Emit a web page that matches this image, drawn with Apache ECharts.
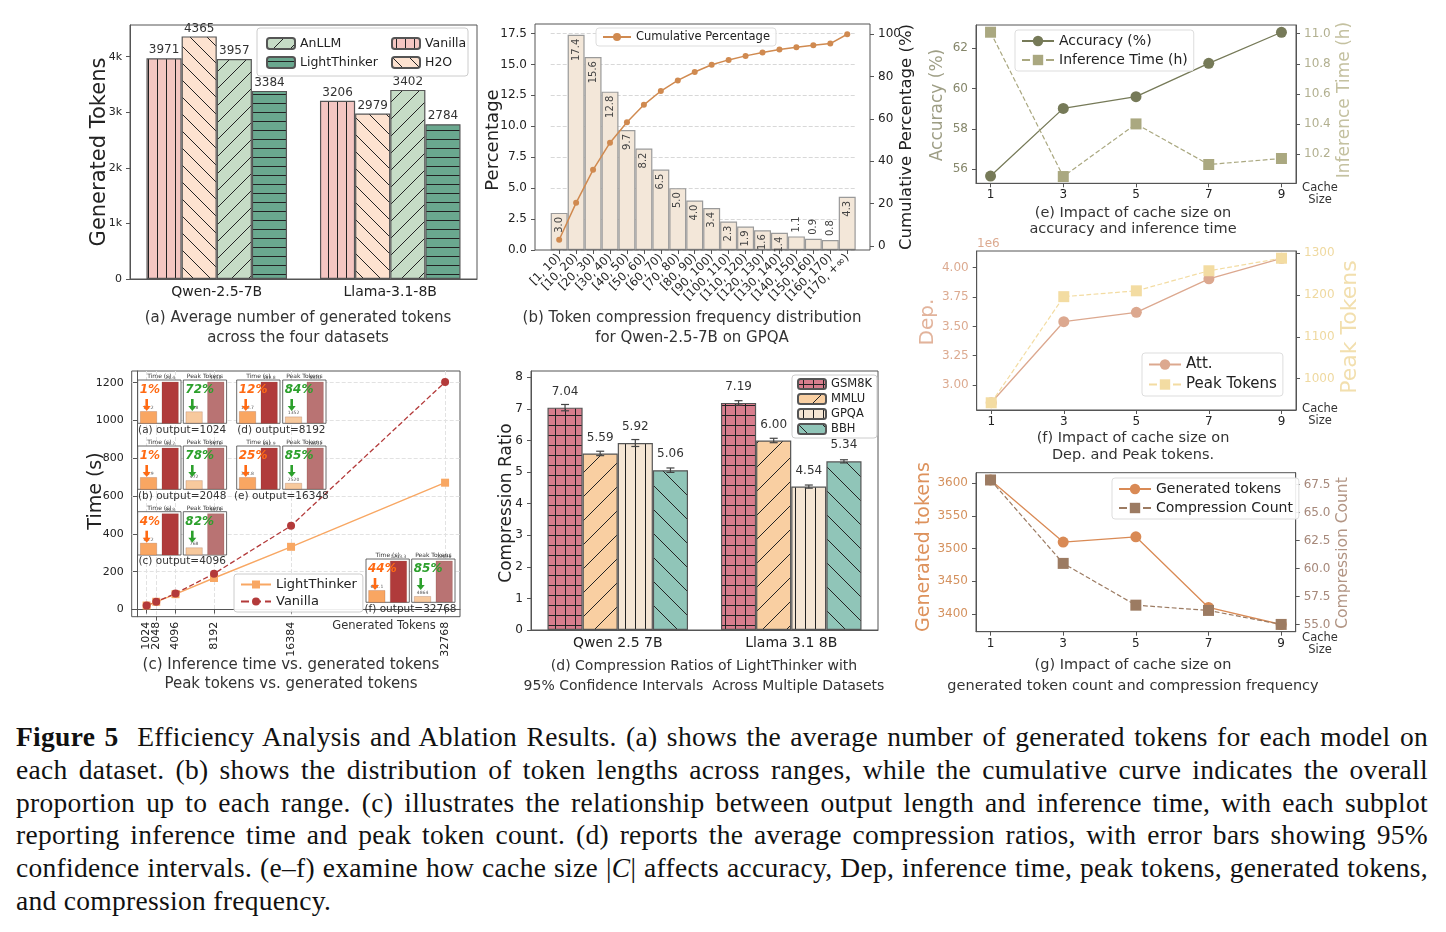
<!DOCTYPE html>
<html>
<head>
<meta charset="utf-8">
<script src="https://cdn.jsdelivr.net/npm/echarts@6/dist/echarts.min.js"></script>
<style>
  body { margin: 0; background: #fff; }
  .layer { position: absolute; left: 0; top: 0; width: 1446px; height: 932px; }
  #caption { position: absolute; left: 16px; top: 721px; width: 1412px; font-family: 'Liberation Serif', 'DejaVu Serif', serif; font-size: 27.5px; letter-spacing: 0.3px; line-height: 32.8px; color: #111; }
  #caption .j { text-align: justify; text-align-last: justify; }
</style>
</head>
<body>
<div id="caption">
  <div class="j"><b>Figure 5</b>&nbsp; Efficiency Analysis and Ablation Results. (a) shows the average number of generated tokens for each model on</div>
  <div class="j">each dataset. (b) shows the distribution of token lengths across ranges, while the cumulative curve indicates the overall</div>
  <div class="j">proportion up to each range. (c) illustrates the relationship between output length and inference time, with each subplot</div>
  <div class="j">reporting inference time and peak token count. (d) reports the average compression ratios, with error bars showing 95%</div>
  <div class="j">confidence intervals. (e–f) examine how cache size |<i>C</i>| affects accuracy, Dep, inference time, peak tokens, generated tokens,</div>
  <div>and compression frequency.</div>
</div>
<script>
// ---- (a) generated tokens
var aModels = ['Qwen-2.5-7B', 'Llama-3.1-8B'];
var aVanilla = [3971, 3206];
var aH2O = [4365, 2979];
var aAnLLM = [3957, 3402];
var aLightThinker = [3384, 2784];
var aTicks = [0, 1000, 2000, 3000, 4000];

// ---- (b) token compression frequency
var bBins = ['[1, 10)', '[10, 20)', '[20, 30)', '[30, 40)', '[40, 50)', '[50, 60)', '[60, 70)', '[70, 80)', '[80, 90)',
  '[90, 100)', '[100, 110)', '[110, 120)', '[120, 130)', '[130, 140)', '[140, 150)', '[150, 160)', '[160, 170)', '[170, +∞)'];
var bPercent = [3.0, 17.4, 15.6, 12.8, 9.7, 8.2, 6.5, 5.0, 4.0, 3.4, 2.3, 1.9, 1.6, 1.4, 1.1, 0.9, 0.8, 4.3];
var bCumulative = [3.0, 20.4, 36.0, 48.8, 58.5, 66.7, 73.2, 78.2, 82.2, 85.6, 87.9, 89.8, 91.4, 92.8, 93.9, 94.8, 95.6, 100];
var bLeftTicks = [0, 2.5, 5, 7.5, 10, 12.5, 15, 17.5];
var bRightTicks = [0, 20, 40, 60, 80, 100];

// ---- (c) inference time vs generated tokens
var cTokens = [1024, 2048, 4096, 8192, 16384, 32768];
var cTimeLight = [21.2, 40.9, 81.2, 166.7, 331.8, 671.1];
var cTimeVanilla = [21.4, 41.2, 84.8, 189.8, 442.9, 1203.3];
var cPeakLight = [328, 472, 768, 1352, 2520, 4864];
var cPeakVanilla = [1152, 2176, 4224, 8320, 16512, 32896];
var cTimeDrop = ['1%', '1%', '4%', '12%', '25%', '44%'];
var cPeakDrop = ['72%', '78%', '82%', '84%', '85%', '85%'];
var cInsetNames = ['(a) output=1024', '(b) output=2048', '(c) output=4096', '(d) output=8192', '(e) output=16348', '(f) output=32768'];
var cYTicks = [0, 200, 400, 600, 800, 1000, 1200];

// ---- (d) compression ratios
var dModels = ['Qwen 2.5 7B', 'Llama 3.1 8B'];
var dDatasets = ['GSM8K', 'MMLU', 'GPQA', 'BBH'];
var dGSM8K = [7.04, 7.19];
var dMMLU = [5.59, 6.00];
var dGPQA = [5.92, 4.54];
var dBBH = [5.06, 5.34];
var dErrGSM8K = [0.10, 0.07];
var dErrMMLU = [0.07, 0.07];
var dErrGPQA = [0.11, 0.05];
var dErrBBH = [0.07, 0.05];
var dTicks = [0, 1, 2, 3, 4, 5, 6, 7, 8];

// ---- (e)-(g) cache size ablation
var cacheSizes = [1, 3, 5, 7, 9];
var eAccuracy = [55.67, 59.02, 59.6, 61.25, 62.79];
var eTime = [11.01, 10.05, 10.40, 10.13, 10.17];
var fDep = [2850000, 3540000, 3620000, 3905000, 4080000];
var fPeak = [942, 1196, 1210, 1258, 1288];
var gTokens = [3605, 3510, 3518, 3410, 3384];
var gCount = [67.9, 60.45, 56.72, 56.25, 55.0];

var FONT = 'DejaVu Sans';

function layer() {
  var el = document.createElement('div');
  el.className = 'layer';
  document.body.appendChild(el);
  return echarts.init(el);
}

// plain tick text, no thousands separator
function plain(v) { return String(+(+v).toFixed(6)); }

// hatch fill as canvas pattern
function hatch(bg, kind, size, lineColor) {
  var c = document.createElement('canvas');
  c.width = size; c.height = size;
  var ctx = c.getContext('2d');
  ctx.fillStyle = bg;
  ctx.fillRect(0, 0, size, size);
  ctx.strokeStyle = lineColor || '#222';
  ctx.lineWidth = 1;
  ctx.beginPath();
  var m = Math.floor(size / 2) + 0.5;
  if (kind === '|' || kind === '+') { ctx.moveTo(m, 0); ctx.lineTo(m, size); }
  if (kind === '-' || kind === '+') { ctx.moveTo(0, m); ctx.lineTo(size, m); }
  if (kind === '/') {
    ctx.moveTo(-2, size + 2); ctx.lineTo(size + 2, -2);
    ctx.moveTo(-2, 2); ctx.lineTo(2, -2);
    ctx.moveTo(size - 2, size + 2); ctx.lineTo(size + 2, size - 2);
  }
  if (kind === '\\') {
    ctx.moveTo(-2, -2); ctx.lineTo(size + 2, size + 2);
    ctx.moveTo(size - 2, -2); ctx.lineTo(size + 2, 2);
    ctx.moveTo(-2, size - 2); ctx.lineTo(2, size + 2);
  }
  ctx.stroke();
  return { image: c, repeat: 'repeat' };
}

function txt(x, y, s, size, color, opt) {
  opt = opt || {};
  var el = {
    type: 'text', x: x, y: y, z: 50, rotation: opt.rotation || 0,
    style: {
      text: s, fill: color || '#333', fontSize: size, fontFamily: FONT,
      fontWeight: opt.weight || 'normal', fontStyle: opt.italic ? 'italic' : 'normal',
      align: opt.align || 'center', textAlign: opt.align || 'center',
      verticalAlign: 'middle', textVerticalAlign: 'middle'
    }
  };
  return el;
}

function pairs(xs, ys) {
  return xs.map(function(x, i) { return [x, ys[i]]; });
}

var tickText = '#222';
var frame = '#555';

// ================= (a)
var chA = layer();
var aSeries = [
  { name: 'Vanilla', data: aVanilla, fill: hatch('#f4c6c2', '|', 9) },
  { name: 'H2O', data: aH2O, fill: hatch('#fde2d0', '\\', 17) },
  { name: 'AnLLM', data: aAnLLM, fill: hatch('#c6dcc6', '/', 17) },
  { name: 'LightThinker', data: aLightThinker, fill: hatch('#6aa88f', '-', 9) }
];
chA.setOption({
  animation: false,
  textStyle: { fontFamily: FONT },
  grid: { left: 130, top: 25, width: 347, height: 254, show: true, borderColor: frame, borderWidth: 1 },
  xAxis: {
    type: 'category', data: aModels,
    axisLine: { lineStyle: { color: frame } },
    axisTick: { alignWithLabel: true, length: 4, lineStyle: { color: frame } },
    axisLabel: { fontSize: 14, color: tickText, margin: 6 }
  },
  yAxis: {
    type: 'value', min: 0, max: 4570,
    axisLine: { show: true, lineStyle: { color: frame } },
    axisTick: { show: true, length: 4, customValues: aTicks, lineStyle: { color: frame } },
    axisLabel: { customValues: aTicks, fontSize: 11, color: tickText, formatter: function(v) { return v ? (v / 1000) + 'k' : '0'; } },
    splitLine: { show: false }
  },
  legend: [
    { data: ['AnLLM', 'LightThinker'], orient: 'vertical', left: 261, top: 32, itemWidth: 28, itemHeight: 11, itemGap: 6, z: 20, textStyle: { fontSize: 12.5, color: '#222' } },
    { data: ['Vanilla', 'H2O'], orient: 'vertical', left: 386, top: 32, itemWidth: 28, itemHeight: 11, itemGap: 6, z: 20, textStyle: { fontSize: 12.5, color: '#222' } }
  ],
  graphic: [
    { type: 'rect', z: 10, shape: { x: 257, y: 28, width: 211, height: 48, r: 3 }, style: { fill: 'rgba(255,255,255,0.85)', stroke: '#ccc', lineWidth: 1 } },
    txt(100, 152, 'Generated Tokens', 21, '#222', { rotation: Math.PI / 2 }),
    txt(298, 318, '(a) Average number of generated tokens', 15, '#333'),
    txt(298, 338, 'across the four datasets', 15, '#333')
  ],
  series: aSeries.map(function(s) {
    return {
      name: s.name, type: 'bar', data: s.data, barGap: '0%', barCategoryGap: '19%',
      itemStyle: { color: s.fill, borderColor: '#555', borderWidth: 1.2 },
      label: { show: true, position: 'top', distance: 2, fontSize: 12, color: '#333' }
    };
  })
});

// ================= (b)
var chB = layer();
chB.setOption({
  animation: false,
  textStyle: { fontFamily: FONT },
  grid: { left: 550.7, top: 24, width: 305, height: 226 },
  xAxis: {
    type: 'category', data: bBins,
    axisLine: { show: false },
    axisTick: { show: true, alignWithLabel: true, length: 4, lineStyle: { color: frame } },
    axisLabel: { rotate: 45, interval: 0, fontSize: 11.5, color: tickText, margin: 6 }
  },
  yAxis: [
    {
      type: 'value', min: 0, max: 18.27, offset: 15.7,
      axisLine: { show: false },
      axisTick: { show: true, length: 4, customValues: bLeftTicks, lineStyle: { color: frame } },
      axisLabel: { customValues: bLeftTicks, fontSize: 12, color: tickText, formatter: function(v) { return v.toFixed(1); } },
      splitLine: { show: true, lineStyle: { type: 'dashed', color: '#d8d8d8' } }
    },
    {
      type: 'value', position: 'right', min: -1.85, max: 104.85, offset: 14.3,
      axisLine: { show: false },
      axisTick: { show: true, length: 4, customValues: bRightTicks, lineStyle: { color: frame } },
      axisLabel: { customValues: bRightTicks, fontSize: 12, color: tickText, formatter: plain },
      splitLine: { show: false }
    }
  ],
  legend: {
    data: ['Cumulative Percentage'], left: 596, top: 28, itemWidth: 28, itemHeight: 10, z: 20,
    backgroundColor: 'rgba(255,255,255,0.9)', borderColor: '#ddd', borderWidth: 1, borderRadius: 3, padding: [3, 6],
    textStyle: { fontSize: 11.5, color: '#222' }
  },
  graphic: [
    { type: 'rect', z: 10, shape: { x: 535, y: 24, width: 335, height: 226 }, style: { fill: 'none', stroke: frame, lineWidth: 1 } },
    txt(493, 140, 'Percentage', 18, '#222', { rotation: Math.PI / 2 }),
    txt(907, 137, 'Cumulative Percentage (%)', 16.5, '#222', { rotation: Math.PI / 2 }),
    txt(692, 318, '(b) Token compression frequency distribution', 15, '#333'),
    txt(692, 338, 'for Qwen-2.5-7B on GPQA', 15, '#333')
  ],
  series: [
    {
      name: 'Percentage', type: 'bar', barCategoryGap: '0%',
      itemStyle: { color: '#f3e7d9', borderColor: '#9a9a9a', borderWidth: 1.2 },
      label: { show: true, rotate: 90, fontSize: 10, color: '#444', formatter: function(p) { return p.value.toFixed(1); } },
      data: bPercent.map(function(v) {
        return v < 1.2
          ? { value: v, label: { position: 'top', align: 'left', verticalAlign: 'middle', distance: 4 } }
          : { value: v, label: { position: 'insideTop', align: 'right', verticalAlign: 'middle', distance: 4 } };
      })
    },
    {
      name: 'Cumulative Percentage', type: 'line', yAxisIndex: 1, data: bCumulative, z: 5,
      symbol: 'circle', symbolSize: 6, itemStyle: { color: '#d08a50' }, lineStyle: { color: '#d08a50', width: 1.5 }
    }
  ]
});

// ================= (c) main lines
var chC = layer();
// 2048 sits 10px from 1024, so its label lives on a second bottom axis to avoid overlap hiding
var cTickA = cTokens.filter(function(t) { return t !== 2048; });
var cTickB = [2048];
function cXAxis(ticks, showLine) {
  return {
    type: 'value', min: -563, max: 34355, position: 'bottom',
    axisLine: { show: showLine, lineStyle: { color: frame } },
    axisTick: { customValues: ticks, length: 4, lineStyle: { color: frame } },
    axisLabel: {
      customValues: ticks, rotate: 90, fontSize: 11, color: tickText, margin: 5, formatter: plain,
      hideOverlap: false, showMinLabel: true, showMaxLabel: true
    },
    splitLine: { show: true, lineStyle: { type: 'dashed', color: '#e2e2e2' } }
  };
}
chC.setOption({
  animation: false,
  textStyle: { fontFamily: FONT },
  grid: { left: 131.7, top: 371, width: 328.3, height: 245.7, show: true, borderColor: frame, borderWidth: 1 },
  xAxis: [cXAxis(cTickA, true), cXAxis(cTickB, false)],
  yAxis: {
    type: 'value', min: -38, max: 1262,
    axisLine: { show: true, lineStyle: { color: frame } },
    axisTick: { show: true, customValues: cYTicks, length: 4, lineStyle: { color: frame } },
    axisLabel: { customValues: cYTicks, fontSize: 11, color: tickText, formatter: plain },
    splitLine: { show: true, lineStyle: { type: 'dashed', color: '#e2e2e2' } }
  },
  legend: {
    data: ['LightThinker', 'Vanilla'], orient: 'vertical', left: 234, top: 574, itemWidth: 30, itemHeight: 10, itemGap: 4, z: 20,
    backgroundColor: 'rgba(255,255,255,0.9)', borderColor: '#ccc', borderWidth: 1, borderRadius: 3, padding: [4, 6],
    textStyle: { fontSize: 13, color: '#222' }
  },
  graphic: [
    txt(96, 491, 'Time (s)', 19, '#222', { rotation: Math.PI / 2 }),
    txt(384, 626, 'Generated Tokens', 11.5, '#333'),
    txt(291, 665, '(c) Inference time vs. generated tokens', 15, '#333'),
    txt(291, 684, 'Peak tokens vs. generated tokens', 15, '#333')
  ],
  series: [
    {
      name: 'LightThinker', type: 'line', data: pairs(cTokens, cTimeLight), symbol: 'rect', symbolSize: 8,
      itemStyle: { color: '#f8a763' }, lineStyle: { color: '#f8a763', width: 1.4 }
    },
    {
      name: 'Vanilla', type: 'line', data: pairs(cTokens, cTimeVanilla), symbol: 'circle', symbolSize: 8,
      itemStyle: { color: '#b33a3a' }, lineStyle: { color: '#b33a3a', width: 1.3, type: 'dashed' }
    }
  ]
});

// ================= (c) insets
var chCi = layer();
var insetBox = [ // time panel left, peak panel left, top
  [137.7, 183.3, 380], [137.7, 183.3, 446], [137.7, 183.3, 511.7],
  [236.7, 282.7, 380], [236.7, 282.7, 446], [366, 411.7, 559]
];
var insetW = 43.3, insetH = 43.3;
var ciGrids = [], ciX = [], ciY = [], ciSeries = [], ciGraphic = [];
function arrow(x, y0, y1, color) {
  return {
    type: 'group', z: 60, children: [
      { type: 'rect', z: 60, shape: { x: x - 1.3, y: y0, width: 2.6, height: y1 - y0 - 4 }, style: { fill: color } },
      { type: 'polygon', z: 60, shape: { points: [[x - 4, y1 - 5], [x + 4, y1 - 5], [x, y1]] }, style: { fill: color } }
    ]
  };
}
cTokens.forEach(function(t, i) {
  var box = insetBox[i];
  var panels = [
    { left: box[0], lt: cTimeLight[i], van: cTimeVanilla[i], title: 'Time (s)', c1: '#f9a662', c2: '#b03b3b', drop: cTimeDrop[i], dc: '#ff6a13', time: true },
    { left: box[1], lt: cPeakLight[i], van: cPeakVanilla[i], title: 'Peak Tokens', c1: '#f7c99d', c2: '#b97373', drop: cPeakDrop[i], dc: '#2ca02c', time: false }
  ];
  panels.forEach(function(p) {
    var gi = ciGrids.length;
    var min, max;
    if (p.time) {
      var span = (p.van - p.lt) / 0.68;
      min = p.lt - 0.28 * span; max = min + span;
    } else {
      min = 0; max = p.van / 0.96;
    }
    ciGrids.push({ left: p.left, top: box[2], width: insetW, height: insetH, show: true, backgroundColor: '#fff', borderColor: '#444', borderWidth: 0.8, z: 1 });
    ciX.push({ gridIndex: gi, type: 'category', data: ['LightThinker', 'Vanilla'], show: false });
    ciY.push({ gridIndex: gi, type: 'value', min: min, max: max, show: false, splitLine: { show: false } });
    ciSeries.push({
      type: 'bar', xAxisIndex: gi, yAxisIndex: gi, barWidth: 17,
      data: [{ value: p.lt, itemStyle: { color: p.c1 } }, { value: p.van, itemStyle: { color: p.c2 } }],
      itemStyle: { borderColor: 'rgba(120,60,40,0.35)', borderWidth: 0.6 },
      label: { show: true, position: 'top', distance: 1, fontSize: 4.5, color: '#555', formatter: function(d) { return p.time ? d.value.toFixed(1) : d.value; } }
    });
    ciGraphic.push(txt(p.left + insetW / 2, box[2] - 3.5, p.title, 6, '#333'));
    ciGraphic.push(txt(p.left + 2, box[2] + 10, p.drop, 12, p.dc, { align: 'left', weight: 'bold', italic: true }));
    ciGraphic.push(arrow(p.left + 9, box[2] + 19, box[2] + 31, p.dc));
  });
  ciGraphic.push(txt((box[0] + box[1] + insetW) / 2, box[2] + insetH + 6.5, cInsetNames[i], 10.5, '#333'));
});
chCi.setOption({
  animation: false,
  textStyle: { fontFamily: FONT },
  grid: ciGrids, xAxis: ciX, yAxis: ciY, series: ciSeries, graphic: ciGraphic
});

// ================= (d)
var chD = layer();
var dSeries = [
  { name: 'GSM8K', data: dGSM8K, err: dErrGSM8K, fill: hatch('#d87d8d', '+', 10) },
  { name: 'MMLU', data: dMMLU, err: dErrMMLU, fill: hatch('#f9cfa2', '/', 24) },
  { name: 'GPQA', data: dGPQA, err: dErrGPQA, fill: hatch('#f5e6d4', '|', 10) },
  { name: 'BBH', data: dBBH, err: dErrBBH, fill: hatch('#90c5b8', '\\', 24) }
];
var dErrData = [];
dSeries.forEach(function(s, k) {
  s.data.forEach(function(v, j) { dErrData.push([j, v, s.err[j], k]); });
});
var dOption = {
  animation: false,
  textStyle: { fontFamily: FONT },
  grid: { left: 531, top: 371, width: 347, height: 259, show: true, borderColor: frame, borderWidth: 1 },
  xAxis: {
    type: 'category', data: dModels,
    axisLine: { lineStyle: { color: frame } },
    axisTick: { alignWithLabel: true, length: 4, lineStyle: { color: frame } },
    axisLabel: { fontSize: 14, color: tickText, margin: 6 }
  },
  yAxis: {
    type: 'value', min: 0, max: 8.2,
    axisLine: { show: true, lineStyle: { color: frame } },
    axisTick: { show: true, length: 4, customValues: dTicks, lineStyle: { color: frame } },
    axisLabel: { customValues: dTicks, fontSize: 12, color: tickText, formatter: plain },
    splitLine: { show: false }
  },
  legend: {
    data: dDatasets, orient: 'vertical', left: 792, top: 375, itemWidth: 28, itemHeight: 10, itemGap: 3, z: 20,
    backgroundColor: 'rgba(255,255,255,0.92)', borderColor: '#ccc', borderWidth: 1, borderRadius: 3, padding: [3, 5],
    textStyle: { fontSize: 11.5, color: '#222' }
  },
  graphic: [
    txt(507, 503, 'Compression Ratio', 17, '#222', { rotation: Math.PI / 2 }),
    txt(704, 666, '(d) Compression Ratios of LightThinker with', 14, '#333'),
    txt(704, 686, '95% Confidence Intervals  Across Multiple Datasets', 14, '#333')
  ],
  series: dSeries.map(function(s) {
    return {
      name: s.name, type: 'bar', data: s.data, barGap: '0%', barCategoryGap: '19%',
      itemStyle: { color: s.fill, borderColor: '#555', borderWidth: 1.2 },
      label: { show: true, position: 'top', distance: 10, fontSize: 12, color: '#333', formatter: function(p) { return p.value.toFixed(2); } }
    };
  })
};
dOption.series.push({
  type: 'custom', name: 'err', z: 6, data: dErrData,
  renderItem: function(params, api) {
    var cat = api.value(0), val = api.value(1), err = api.value(2), k = api.value(3);
    var band = api.size([1, 0])[0];
    var bw = band * 0.81 / 4;
    var x = api.coord([cat, val])[0] + (k - 1.5) * bw;
    var yT = api.coord([cat, val + err])[1];
    var yB = api.coord([cat, val - err])[1];
    var st = { stroke: '#444', lineWidth: 1.2 };
    return {
      type: 'group', children: [
        { type: 'line', shape: { x1: x, y1: yT, x2: x, y2: yB }, style: st },
        { type: 'line', shape: { x1: x - 4, y1: yT, x2: x + 4, y2: yT }, style: st },
        { type: 'line', shape: { x1: x - 4, y1: yB, x2: x + 4, y2: yB }, style: st }
      ]
    };
  }
});
chD.setOption(dOption);

// ================= (e)-(g)
function cacheChart(cfg) {
  var ch = layer();
  var axisY = function(a, right) {
    return {
      type: 'value', position: right ? 'right' : 'left', min: a.min, max: a.max,
      axisLine: { show: true, lineStyle: { color: frame } },
      axisTick: { show: true, length: 4, customValues: a.ticks, lineStyle: { color: frame } },
      axisLabel: { customValues: a.ticks, fontSize: 12, color: a.color, formatter: a.fmt || plain },
      splitLine: { show: false }
    };
  };
  ch.setOption({
    animation: false,
    textStyle: { fontFamily: FONT },
    grid: { left: cfg.box[0], top: cfg.box[1], width: cfg.box[2], height: cfg.box[3], show: true, borderColor: frame, borderWidth: 1 },
    xAxis: {
      type: 'value', min: 0.6, max: 9.4,
      axisLine: { lineStyle: { color: frame } },
      axisTick: { customValues: cacheSizes, length: 4, lineStyle: { color: frame } },
      axisLabel: { customValues: cacheSizes, fontSize: 12, color: tickText, margin: 6, formatter: plain },
      splitLine: { show: false }
    },
    yAxis: [axisY(cfg.l, false), axisY(cfg.r, true)],
    legend: {
      data: [cfg.s1.name, cfg.s2.name], orient: 'vertical', left: cfg.legend[0], top: cfg.legend[1],
      itemWidth: 32, itemHeight: 13, itemGap: 5, z: 20,
      backgroundColor: 'rgba(255,255,255,0.9)', borderColor: '#ddd', borderWidth: 1, borderRadius: 3, padding: [4, 6],
      textStyle: { fontSize: cfg.legend[2], color: '#222' }
    },
    graphic: cfg.graphic,
    series: [
      {
        name: cfg.s1.name, type: 'line', yAxisIndex: 0, data: pairs(cacheSizes, cfg.s1.data),
        symbol: 'circle', symbolSize: 11, itemStyle: { color: cfg.s1.color }, lineStyle: { color: cfg.s1.color, width: 1.3 }
      },
      {
        name: cfg.s2.name, type: 'line', yAxisIndex: 1, data: pairs(cacheSizes, cfg.s2.data),
        symbol: 'rect', symbolSize: 11, itemStyle: { color: cfg.s2.color }, lineStyle: { color: cfg.s2.color, width: 1.2, type: 'dashed' }
      }
    ]
  });
}

cacheChart({
  box: [976, 25, 320, 158.3],
  l: { min: 55.31, max: 63.15, ticks: [56, 58, 60, 62], color: '#85866a' },
  r: { min: 10.005, max: 11.058, ticks: [10.2, 10.4, 10.6, 10.8, 11.0], color: '#b2b090', fmt: function(v) { return v.toFixed(1); } },
  s1: { name: 'Accuracy (%)', data: eAccuracy, color: '#767a58' },
  s2: { name: 'Inference Time (h)', data: eTime, color: '#aaa880' },
  legend: [1015, 30, 14],
  graphic: [
    txt(938, 105, 'Accuracy (%)', 17, '#9e9e85', { rotation: Math.PI / 2 }),
    txt(1345, 100, 'Inference Time (h)', 17, '#c4c1a0', { rotation: Math.PI / 2 }),
    txt(1320, 188, 'Cache', 11.5, '#333'),
    txt(1320, 200, 'Size', 11.5, '#333'),
    txt(1133, 213, '(e) Impact of cache size on', 14.5, '#333'),
    txt(1133, 229, 'accuracy and inference time', 14.5, '#333')
  ]
});

cacheChart({
  box: [976.7, 251, 319.3, 159],
  l: { min: 2788000, max: 4142000, ticks: [3000000, 3250000, 3500000, 3750000, 4000000], color: '#dcaa90', fmt: function(v) { return (v / 1e6).toFixed(2); } },
  r: { min: 924.7, max: 1305.3, ticks: [1000, 1100, 1200, 1300], color: '#efd9a0' },
  s1: { name: 'Att.', data: fDep, color: '#dca88f' },
  s2: { name: 'Peak Tokens', data: fPeak, color: '#f3dca2' },
  legend: [1142, 353, 15],
  graphic: [
    txt(977, 244, '1e6', 12, '#dcaa90', { align: 'left' }),
    txt(928, 322, 'Dep.', 20, '#e2b39b', { rotation: Math.PI / 2 }),
    txt(1350, 327, 'Peak Tokens', 22, '#f2dfae', { rotation: Math.PI / 2 }),
    txt(1320, 409, 'Cache', 11.5, '#333'),
    txt(1320, 421, 'Size', 11.5, '#333'),
    txt(1133, 438, '(f) Impact of cache size on', 14.5, '#333'),
    txt(1133, 455, 'Dep. and Peak tokens.', 14.5, '#333')
  ]
});

cacheChart({
  box: [976, 472.7, 319.7, 159],
  l: { min: 3373, max: 3616, ticks: [3400, 3450, 3500, 3550, 3600], color: '#d4915e' },
  r: { min: 54.35, max: 68.55, ticks: [55, 57.5, 60, 62.5, 65, 67.5], color: '#a6887a', fmt: function(v) { return v.toFixed(1); } },
  s1: { name: 'Generated tokens', data: gTokens, color: '#d98a55' },
  s2: { name: 'Compression Count', data: gCount, color: '#9c7b62' },
  legend: [1112, 478, 14],
  graphic: [
    txt(924, 547, 'Generated tokens', 19, '#dd925c', { rotation: Math.PI / 2 }),
    txt(1343, 553, 'Compression Count', 15.5, '#b29584', { rotation: Math.PI / 2 }),
    txt(1320, 638, 'Cache', 11.5, '#333'),
    txt(1320, 650, 'Size', 11.5, '#333'),
    txt(1133, 665, '(g) Impact of cache size on', 14.5, '#333'),
    txt(1133, 686, 'generated token count and compression frequency', 14.5, '#333')
  ]
});
</script>
</body>
</html>
